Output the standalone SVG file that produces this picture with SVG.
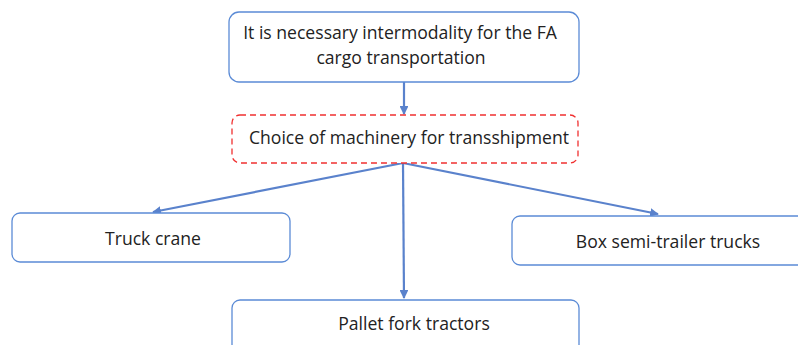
<svg xmlns="http://www.w3.org/2000/svg" width="798" height="345" viewBox="0 0 798 345">
<style>
.box{fill:#fff;stroke:#5b8bd6;stroke-width:1.3}
.dash{fill:#fff;stroke:#f03030;stroke-width:1.3;stroke-dasharray:6 4}
.t{font-family:"Open Sans","Liberation Sans",sans-serif;font-size:17.6px;fill:#222;text-anchor:middle}
.c{stroke:#5a82cc;stroke-width:2.2;fill:none;marker-end:url(#ah)}
</style>
<defs>
<marker id="ah" viewBox="0 0 10 10" refX="9" refY="5" markerWidth="4" markerHeight="4" orient="auto" markerUnits="strokeWidth">
<path d="M0,0 L10,5 L0,10 z" fill="#5a82cc"/>
</marker>
</defs>
<rect width="798" height="345" fill="#fff"/>
<g id="connectors">
<line class="c" x1="404" y1="82" x2="404" y2="114"/>
<line class="c" x1="403" y1="163" x2="153" y2="212"/>
<line class="c" x1="403" y1="163" x2="658" y2="214"/>
<line class="c" x1="403" y1="163" x2="404" y2="298"/>
</g>
<g id="n1">
<rect class="box" x="229" y="12" width="350" height="70" rx="10"/>
<text class="t" x="400" y="39">It is necessary intermodality for the FA</text>
<text class="t" x="401" y="64">cargo transportation</text>
</g>
<g id="n2">
<rect class="dash" x="232" y="115" width="346" height="48" rx="8"/>
<text class="t" x="409" y="144">Choice of machinery for transshipment</text>
</g>
<g id="n3">
<rect class="box" x="12" y="213" width="278" height="49" rx="8"/>
<text class="t" x="153" y="245">Truck crane</text>
</g>
<g id="n4">
<rect class="box" x="512" y="216" width="296" height="49" rx="8"/>
<text class="t" x="668" y="248">Box semi-trailer trucks</text>
</g>
<g id="n5">
<rect class="box" x="232" y="300" width="347" height="60" rx="8"/>
<text class="t" x="414" y="330">Pallet fork tractors</text>
</g>
</svg>
